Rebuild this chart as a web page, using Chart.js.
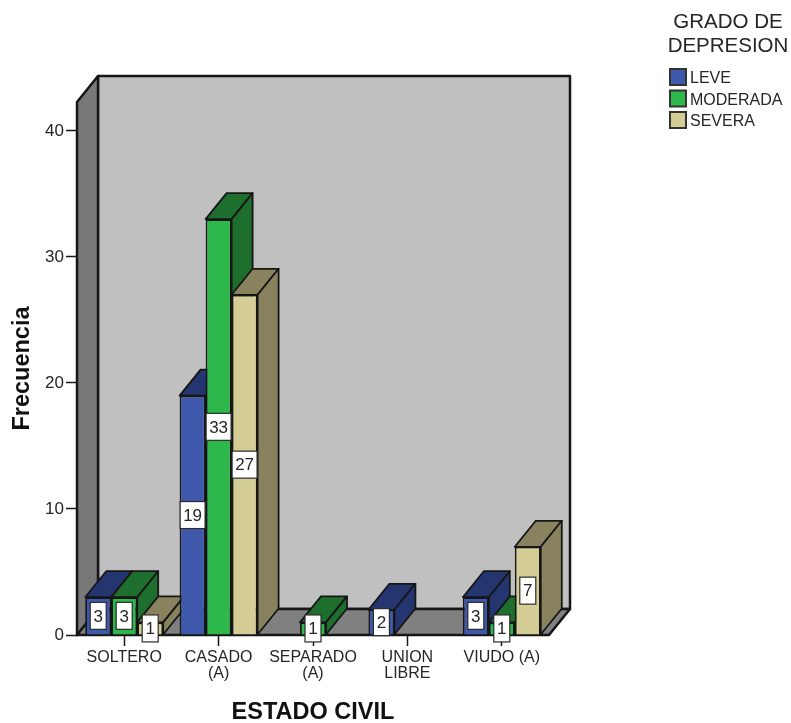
<!DOCTYPE html>
<html>
<head>
<meta charset="utf-8">
<title>Estado civil</title>
<style>
  html, body { margin: 0; padding: 0; background: #fff; }
  canvas { display: block; }
</style>
<script src="https://cdn.jsdelivr.net/npm/chart.js@4/dist/chart.umd.min.js"></script>
</head>
<body>
<canvas id="chart" width="791" height="723"></canvas>
<script>
const categories = [['SOLTERO'], ['CASADO', '(A)'], ['SEPARADO', '(A)'], ['UNION', 'LIBRE'], ['VIUDO (A)']];
const leve = [3, 19, null, 2, 3];
const moderada = [3, 33, 1, null, 1];
const severa = [1, 27, null, null, 7];
const legendTitle = ['GRADO DE', 'DEPRESION'];

const LINE = '#161616';
const TEXT = '#262626';
const FONT = '"Liberation Sans", Arial, sans-serif';
const depthX = 21;
const depthY = 26;

function poly(ctx, pts, fill, lineWidth) {
  ctx.beginPath();
  pts.forEach((p, i) => i ? ctx.lineTo(p[0], p[1]) : ctx.moveTo(p[0], p[1]));
  ctx.closePath();
  ctx.fillStyle = fill;
  ctx.fill();
  ctx.lineWidth = lineWidth;
  ctx.strokeStyle = LINE;
  ctx.lineJoin = 'round';
  ctx.stroke();
}

const box3d = {
  id: 'box3d',
  beforeDatasetsDraw(chart) {
    const ctx = chart.ctx;
    const { left, right, top, bottom } = chart.chartArea;
    ctx.save();
    // walls
    poly(ctx, [[left + depthX, top - depthY], [right + depthX, top - depthY], [right + depthX, bottom - depthY], [left + depthX, bottom - depthY]], '#c0c0c0', 2.5);
    poly(ctx, [[left, top], [left + depthX, top - depthY], [left + depthX, bottom - depthY], [left, bottom]], '#787878', 2.5);
    poly(ctx, [[left, bottom], [left + depthX, bottom - depthY], [right + depthX, bottom - depthY], [right, bottom]], '#808080', 2.5);
    // side + top faces, left to right so nearer ones cover the others
    categories.forEach((c, i) => {
      chart.data.datasets.forEach((ds, d) => {
        if (ds.data[i] == null) return;
        const bar = chart.getDatasetMeta(d).data[i];
        const l = bar.x - bar.width / 2;
        const r = bar.x + bar.width / 2;
        poly(ctx, [[l, bar.y], [l + depthX, bar.y - depthY], [r + depthX, bar.y - depthY], [r, bar.y]], ds.darkColor, 1.8);
        poly(ctx, [[r, bar.y], [r + depthX, bar.y - depthY], [r + depthX, bar.base - depthY], [r, bar.base]], ds.darkColor, 1.8);
      });
    });
    ctx.restore();
  },
  afterDatasetsDraw(chart) {
    const ctx = chart.ctx;
    ctx.save();
    ctx.font = '17px ' + FONT;
    ctx.textAlign = 'center';
    ctx.textBaseline = 'middle';
    chart.data.datasets.forEach((ds, d) => {
      chart.getDatasetMeta(d).data.forEach((bar, i) => {
        const v = ds.data[i];
        if (v == null) return;
        const y = (bar.y + bar.base) / 2;
        const w = String(v).length > 1 ? 25 : 16;
        const h = 27;
        ctx.fillStyle = '#fff';
        ctx.fillRect(bar.x - w / 2, y - h / 2, w, h);
        ctx.lineWidth = 1.2;
        ctx.strokeStyle = '#2a2a2a';
        ctx.strokeRect(bar.x - w / 2, y - h / 2, w, h);
        ctx.fillStyle = TEXT;
        ctx.fillText(v, bar.x, y + 1);
      });
    });
    // legend
    ctx.textAlign = 'center';
    ctx.font = '20.5px ' + FONT;
    legendTitle.forEach((t, i) => ctx.fillText(t, 728, 22 + i * 24));
    ctx.textAlign = 'left';
    ctx.font = '16px ' + FONT;
    chart.data.datasets.forEach((ds, i) => {
      const y = 69 + i * 21.5;
      ctx.fillStyle = ds.backgroundColor;
      ctx.fillRect(670, y, 16, 16);
      ctx.lineWidth = 2;
      ctx.strokeStyle = '#333';
      ctx.strokeRect(670, y, 16, 16);
      ctx.fillStyle = TEXT;
      ctx.fillText(ds.label, 690, y + 10);
    });
    ctx.restore();
  }
};

new Chart(document.getElementById('chart'), {
  type: 'bar',
  data: {
    labels: categories,
    datasets: [
      { label: 'LEVE', data: leve, backgroundColor: '#3e58ac', darkColor: '#24356f' },
      { label: 'MODERADA', data: moderada, backgroundColor: '#2eb84c', darkColor: '#1e6e2e' },
      { label: 'SEVERA', data: severa, backgroundColor: '#d4cd96', darkColor: '#88835e' }
    ].map(ds => Object.assign(ds, {
      borderColor: LINE,
      borderWidth: 1.8,
      barPercentage: 1,
      categoryPercentage: 0.826
    }))
  },
  plugins: [box3d],
  options: {
    responsive: false,
    animation: false,
    layout: { padding: { left: 0, top: 102, right: 242, bottom: 0 } },
    plugins: { legend: { display: false }, tooltip: { enabled: false } },
    scales: {
      x: {
        afterFit(s) { s.height = 88; },
        grid: { offset: false, drawOnChartArea: false, tickLength: 11, tickColor: LINE, tickWidth: 1.5 },
        border: { display: false },
        ticks: { autoSkip: false, maxRotation: 0, padding: 3, color: TEXT, font: { family: FONT, size: 16, lineHeight: 1.02 } },
        title: { display: true, text: 'ESTADO CIVIL', color: '#111', padding: { top: 0, bottom: 0 }, font: { family: FONT, size: 23.5, weight: 'bold', lineHeight: 0.85 } }
      },
      y: {
        min: 0,
        max: 42.3,
        afterFit(s) { s.width = 77; },
        grid: { drawOnChartArea: false, tickLength: 11, tickColor: LINE, tickWidth: 1.5 },
        border: { display: false },
        ticks: { stepSize: 10, includeBounds: false, padding: 2, color: TEXT, font: { family: FONT, size: 17 } },
        title: { display: true, text: 'Frecuencia', color: '#111', padding: { top: 11, bottom: 0 }, font: { family: FONT, size: 23.5, weight: 'bold', lineHeight: 1 } }
      }
    }
  }
});
</script>
</body>
</html>
